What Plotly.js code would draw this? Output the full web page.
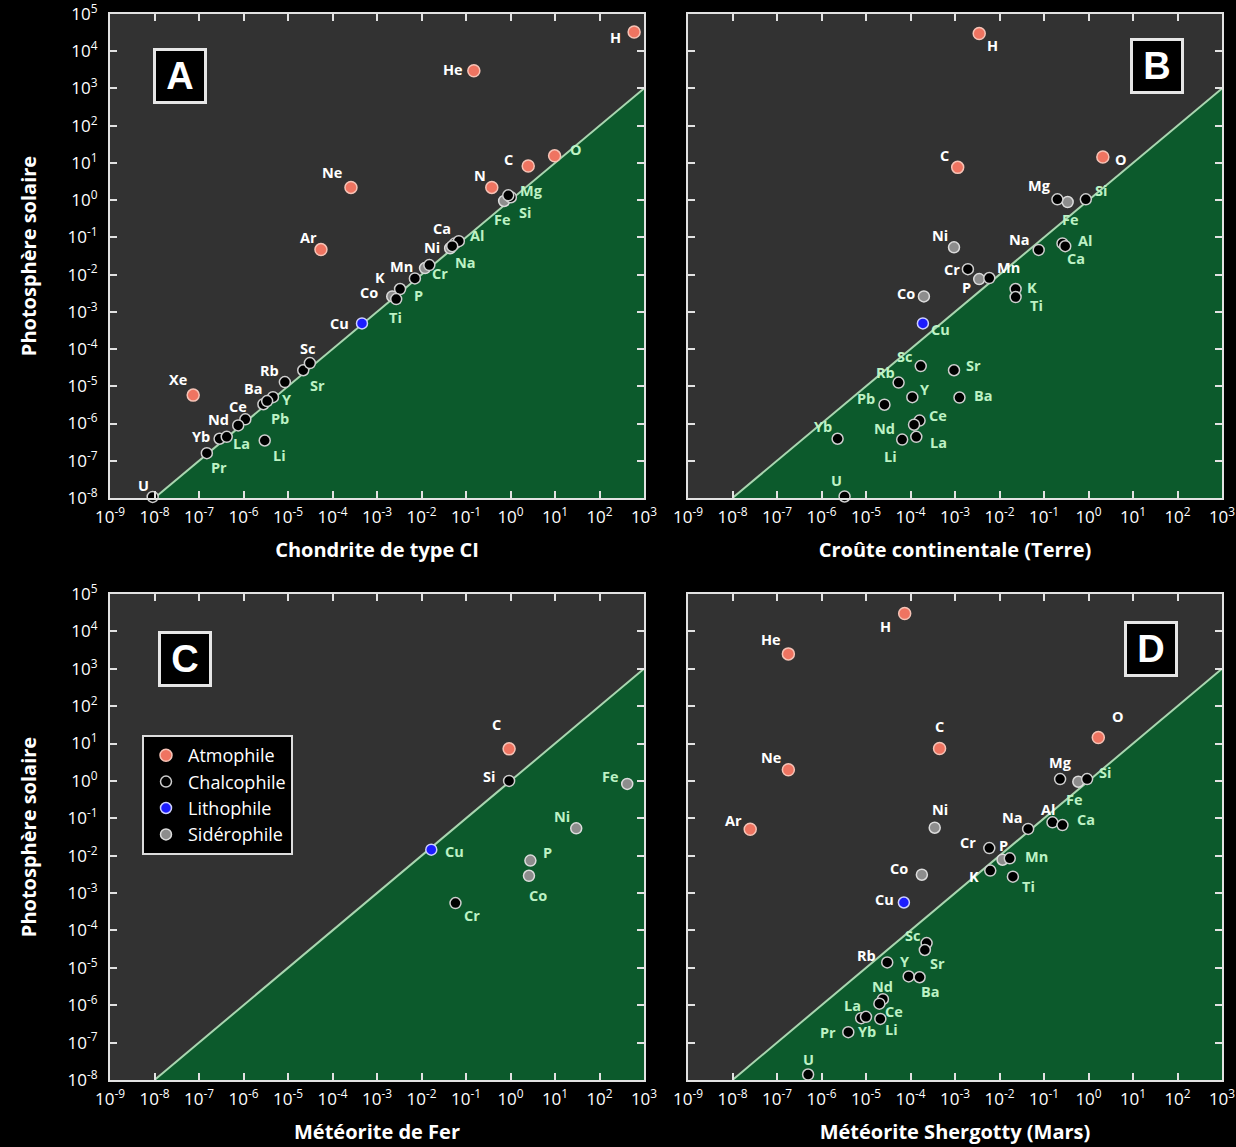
<!DOCTYPE html>
<html><head><meta charset="utf-8">
<script src="https://cdn.plot.ly/plotly-3.0.1.min.js"></script>
<style>html,body{margin:0;padding:0;background:#000;}#chart{width:1236px;height:1147px;}</style>
</head><body><div id="chart"></div>
<script>
// ---------- DATA ----------
const categories = ['Atmophile', 'Chalcophile', 'Lithophile', 'Sidérophile'];
const atmophiles = ['H', 'He', 'Ne', 'Ar', 'Xe', 'N', 'C', 'O'];
const lithophiles = ['Cu'];
const siderophiles = ['Fe', 'Ni', 'Co', 'P'];

const xTickExponents = [-9, -8, -7, -6, -5, -4, -3, -2, -1, 0, 1, 2, 3];
const yTickExponents = [-8, -7, -6, -5, -4, -3, -2, -1, 0, 1, 2, 3, 4, 5];
const diagonal = [1e-8, 1e3];

// Panel A : Chondrite de type CI
const elementsA = ['H','He','Ne','Ar','Xe','N','C','O','Fe','Si','Mg','Ni','Ca','Al','Na','P','Cr','Mn','K','Co','Ti','Cu','Sc','Sr','Rb','Y','Ba','Pb','Ce','Nd','Yb','La','Pr','Li','U'];
const chondriteCI = [6.0e2,1.5e-1,2.6e-4,5.5e-5,7.4e-8,3.8e-1,2.5,9.8,0.72,1.02,0.89,4.4e-2,5.6e-2,6.9e-2,4.9e-2,1.2e-2,1.5e-2,7.1e-3,3.3e-3,2.2e-3,2.7e-3,4.6e-4,2.2e-5,3.1e-5,8.5e-6,4.6e-6,2.8e-6,3.4e-6,1.1e-6,7.6e-7,2.9e-7,4.2e-7,1.5e-7,3.0e-6,9.1e-9];
const photosphereA = [3.3e4,3.0e3,2.2,4.7e-2,5.8e-6,2.2,8.3,15.5,0.95,1.2,1.35,5.1e-2,6.8e-2,7.9e-2,5.8e-2,1.5e-2,1.8e-2,7.9e-3,4.1e-3,2.6e-3,2.2e-3,4.9e-4,2.7e-5,4.2e-5,1.3e-5,5.1e-6,3.3e-6,4.0e-6,1.3e-6,8.9e-7,3.9e-7,4.4e-7,1.6e-7,3.5e-7,1.07e-8];

// Panel B : Croûte continentale (Terre)
const elementsB = ['H','C','O','Mg','Fe','Si','Na','Al','Ca','Ni','Cr','P','Mn','K','Ti','Co','Cu','Sc','Sr','Rb','Y','Ba','Pb','Ce','Nd','La','Li','Yb','U'];
const crouteContinentale = [3.5e-3,1.15e-3,2.1,0.20,0.34,0.87,7.6e-2,0.26,0.30,9.5e-4,1.95e-3,3.5e-3,5.9e-3,2.3e-2,2.3e-2,2.0e-4,1.9e-4,1.7e-4,9.5e-4,5.4e-5,1.1e-4,1.26e-3,2.6e-5,1.6e-4,1.2e-4,1.35e-4,6.5e-5,2.3e-6,3.3e-6];
const photosphereB = [3.0e4,7.6,14.5,1.05,0.89,1.05,4.6e-2,6.9e-2,5.8e-2,5.4e-2,1.4e-2,7.6e-3,8.1e-3,4.1e-3,2.5e-3,2.6e-3,4.9e-4,3.5e-5,2.7e-5,1.26e-5,5.1e-6,5.0e-6,3.2e-6,1.2e-6,9.3e-7,4.4e-7,3.7e-7,3.9e-7,1.1e-8];

// Panel C : Météorite de Fer
const elementsC = ['C','Si','Fe','Ni','Cu','P','Co','Cr'];
const meteoriteFer = [0.93,0.93,4.2e2,30,1.66e-2,2.8,2.6,5.8e-2];
const photosphereC = [7.2,1.0,0.83,5.4e-2,1.45e-2,7.4e-3,2.9e-3,5.4e-4];

// Panel D : Météorite Shergotty (Mars)
const elementsD = ['H','He','Ne','Ar','C','O','Mg','Fe','Si','Na','Al','Ca','Ni','Cr','P','Mn','K','Ti','Co','Cu','Sc','Sr','Rb','Y','Ba','Nd','Ce','La','Yb','Li','Pr','U'];
const meteoriteShergotty = [7.4e-5,1.8e-7,1.8e-7,2.5e-8,4.5e-4,1.66,0.23,0.59,0.93,4.4e-2,0.155,0.26,3.5e-4,5.9e-3,1.17e-2,1.7e-2,6.2e-3,2.0e-2,1.8e-4,7.1e-5,2.3e-4,2.1e-4,3.0e-5,9.1e-5,1.6e-4,2.4e-5,2.0e-5,7.8e-6,1.0e-5,2.1e-5,4.0e-6,5.0e-7];
const photosphereD = [3.0e4,2.5e3,2.0,5.1e-2,7.4,14.5,1.12,0.95,1.12,5.2e-2,7.8e-2,6.6e-2,5.6e-2,1.6e-2,7.8e-3,8.5e-3,4.0e-3,2.75e-3,3.1e-3,5.6e-4,4.6e-5,3.0e-5,1.4e-5,5.9e-6,5.6e-6,1.45e-6,1.1e-6,4.5e-7,4.9e-7,4.3e-7,1.9e-7,1.4e-8];

// ---------- LABEL PLACEMENT (pixel offsets, layout only) ----------
const labelOffsetsA = [[-19,6],[-21,-1],[-19,-15],[-12,-12],[-15,-16],[-12,-12],[-20,-6],[21,-6],[-2,19],[14,15],[23,-5],[-18,-1],[-13,-15],[18,-6],[13,16],[-7,27],[11,8],[-13,-12],[-20,-12],[-23,-4],[-1,18],[-22,0],[4,-22],[8,22],[-15,-12],[14,2],[-10,-16],[13,17],[-7,-13],[-20,-6],[-19,-2],[15,7],[12,14],[15,15],[-9,-11]];
const labelOffsetsB = [[13,12],[-13,-12],[18,3],[-18,-14],[3,17],[15,-9],[-19,-10],[23,-3],[11,12],[-14,-12],[-16,0],[-13,8],[19,-11],[16,-2],[21,8],[-18,-3],[18,6],[-16,-10],[19,-5],[-13,-10],[13,-8],[24,-2],[-18,-6],[18,-5],[-30,4],[22,6],[-12,17],[-15,-12],[-8,-16]];
const labelOffsetsC = [[-13,-24],[-20,-4],[-17,-7],[-14,-12],[23,2],[17,-8],[9,20],[17,12]];
const labelOffsetsD = [[-19,13],[-17,-14],[-17,-12],[-17,-9],[0,-22],[20,-21],[0,-17],[-4,18],[18,-7],[-16,-11],[-4,-13],[24,-6],[5,-18],[-21,-6],[1,-14],[27,-2],[-16,6],[16,10],[-23,-6],[-19,-3],[-14,-8],[13,13],[-21,-7],[-4,-15],[11,14],[0,-13],[15,8],[-9,-13],[1,15],[11,11],[-20,0],[0,-15]];

// ---------- STYLE ----------
const FONT = 'Open Sans, Liberation Sans, sans-serif';
const styleOf = {
  'Atmophile':   {fill: '#ef7461', line: '#f6c3b6', size: 12},
  'Chalcophile': {fill: '#000000', line: '#cfcfcf', size: 11},
  'Lithophile':  {fill: '#1c1cff', line: '#cdd0ff', size: 11},
  'Sidérophile': {fill: '#8d8d8d', line: '#dcdcdc', size: 11}
};
const drawOrder = ['Atmophile', 'Sidérophile', 'Chalcophile', 'Lithophile'];
function groupOf(el) {
  if (atmophiles.includes(el)) return 'Atmophile';
  if (lithophiles.includes(el)) return 'Lithophile';
  if (siderophiles.includes(el)) return 'Sidérophile';
  return 'Chalcophile';
}

const W = 1236, H = 1147;
const panels = [
  {letter:'A', n:'', els:elementsA, xs:chondriteCI, ys:photosphereA, offs:labelOffsetsA, xtitle:'Chondrite de type CI', ytitle:'Photosphère solaire', xd:[110,644], yd:[14,498], box:[180,76]},
  {letter:'B', n:'2', els:elementsB, xs:crouteContinentale, ys:photosphereB, offs:labelOffsetsB, xtitle:'Croûte continentale (Terre)', ytitle:null, xd:[688,1222], yd:[14,498], box:[1157,66]},
  {letter:'C', n:'3', els:elementsC, xs:meteoriteFer, ys:photosphereC, offs:labelOffsetsC, xtitle:'Météorite de Fer', ytitle:'Photosphère solaire', xd:[110,644], yd:[594,1080], box:[185,659]},
  {letter:'D', n:'4', els:elementsD, xs:meteoriteShergotty, ys:photosphereD, offs:labelOffsetsD, xtitle:'Météorite Shergotty (Mars)', ytitle:null, xd:[688,1222], yd:[594,1080], box:[1151,649]}
];

function tickText(e) { return '10<sup>' + (e < 0 ? '-' + (-e) : e) + '</sup>'; }

const traces = [];
const annotations = [];
const layout = {
  width: W, height: H, autosize: false,
  margin: {l:0, r:0, t:0, b:0},
  paper_bgcolor: '#000000', plot_bgcolor: '#323232',
  showlegend: true,
  legend: {x: 142/W, y: 1 - 735/H, xanchor:'left', yanchor:'top',
           bgcolor:'#000000', bordercolor:'#dddddd', borderwidth:2,
           font:{family:FONT, size:18, color:'#ffffff'}, traceorder:'normal',
           itemclick:false, itemdoubleclick:false, tracegroupgap:0, itemwidth:34},
  annotations: annotations,
  hovermode: false
};

panels.forEach((p, pi) => {
  const xa = 'x' + p.n, ya = 'y' + p.n;
  const axisBase = {
    type:'log', showgrid:false, zeroline:false, fixedrange:true,
    ticks:'inside', ticklen:7, tickwidth:2, tickcolor:'#e2e2e2',
    showline:true, linecolor:'#e2e2e2', linewidth:2, mirror:'ticks',
    tickfont:{family:FONT, size:17, color:'#ffffff'}, ticklabelstandoff:3,
    ticklabeloverflow:'allow',
    automargin:false, layer:'above traces'
  };
  layout['xaxis' + p.n] = Object.assign({}, axisBase, {
    domain:[p.xd[0]/W, p.xd[1]/W], anchor: ya, range:[-9, 3],
    tickmode:'array', tickvals: xTickExponents.map(e => Math.pow(10, e)), ticktext: xTickExponents.map(tickText),
    title:{text: p.xtitle, standoff: 16, font:{family:FONT, size:20, color:'#ffffff', weight:700}}
  });
  layout['yaxis' + p.n] = Object.assign({}, axisBase, {
    domain:[1 - p.yd[1]/H, 1 - p.yd[0]/H], anchor: xa, range:[-8, 5],
    tickmode:'array', tickvals: yTickExponents.map(e => Math.pow(10, e)), ticktext: yTickExponents.map(tickText),
    showticklabels: !!p.ytitle, ticklabelstandoff:7,
    title: p.ytitle ? {text: p.ytitle, standoff: 26, font:{family:FONT, size:20, color:'#ffffff', weight:700}} : {text:''}
  });

  // green region below the 1:1 line
  traces.push({type:'scatter', mode:'lines', xaxis:xa, yaxis:ya,
    x:[diagonal[0], diagonal[1], diagonal[1], diagonal[0]], y:[diagonal[0], diagonal[1], diagonal[0], diagonal[0]],
    fill:'toself', fillcolor:'#0c5a2c', line:{width:0, color:'rgba(0,0,0,0)'}, showlegend:false, hoverinfo:'skip'});
  traces.push({type:'scatter', mode:'lines', xaxis:xa, yaxis:ya,
    x:diagonal, y:diagonal, line:{color:'#a9d6b0', width:2}, showlegend:false, hoverinfo:'skip'});

  drawOrder.forEach(cat => {
    const idx = p.els.map((e, i) => i).filter(i => groupOf(p.els[i]) === cat);
    const st = styleOf[cat];
    traces.push({type:'scatter', mode:'markers', xaxis:xa, yaxis:ya, name:cat,
      x: idx.map(i => p.xs[i]), y: idx.map(i => p.ys[i]),
      marker:{color:st.fill, size:st.size, line:{color:st.line, width:1.5}},
      cliponaxis:false, legendgroup:cat, showlegend: pi === 0,
      legendrank: categories.indexOf(cat) + 1, hoverinfo:'skip'});
  });

  // element labels
  p.els.forEach((el, i) => {
    const lx = Math.log10(p.xs[i]), ly = Math.log10(p.ys[i]);
    const dx = p.offs[i][0], dy = p.offs[i][1];
    const labLx = lx + dx / 44.5, labLy = ly - dy / 37.3;
    const onGreen = labLy < labLx;
    annotations.push({xref:xa, yref:ya, x:lx, y:ly, xshift:dx, yshift:-dy, showarrow:false,
      text: el, font:{family:FONT, size:14.5, weight:700, color: onGreen ? '#bdf2c4' : '#ffffff'}});
  });

  // panel letter box
  annotations.push({xref:'paper', yref:'paper', x:p.box[0]/W, y:1 - p.box[1]/H, xanchor:'center', yanchor:'middle',
    showarrow:false, text: p.letter, width:48, height:50, borderpad:0,
    bgcolor:'#000000', bordercolor:'#e6e6e6', borderwidth:3,
    font:{family:'Liberation Sans, Arial, sans-serif', size:38, weight:700, color:'#ffffff'}});
});

Plotly.newPlot('chart', traces, layout, {staticPlot:true, displayModeBar:false});
</script></body></html>
